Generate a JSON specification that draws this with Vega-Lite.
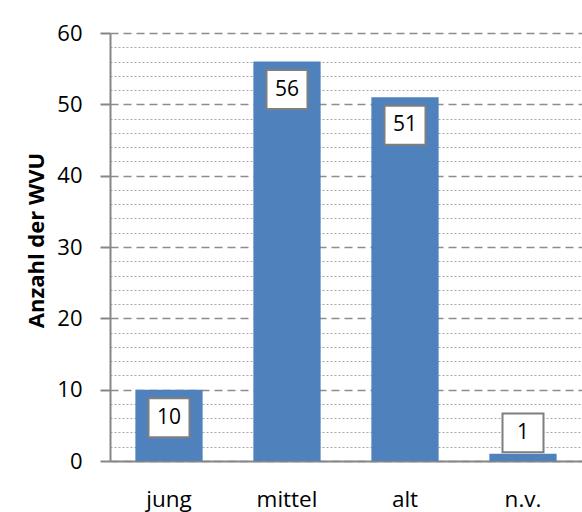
{
  "$schema": "https://vega.github.io/schema/vega-lite/v6.json",
  "width": 472,
  "height": 428,
  "autosize": {"type": "none"},
  "padding": {"left": 110, "top": 33, "right": 0, "bottom": 51},
  "background": "white",
  "config": {
    "view": {"stroke": null},
    "font": "Open Sans",
    "axis": {"labelColor": "black", "titleColor": "black"}
  },
  "data": {
    "values": [
      {"Gruppe": "jung", "Anzahl": 10},
      {"Gruppe": "mittel", "Anzahl": 56},
      {"Gruppe": "alt", "Anzahl": 51},
      {"Gruppe": "n.v.", "Anzahl": 1}
    ]
  },
  "encoding": {
    "x": {
      "field": "Gruppe",
      "type": "nominal",
      "sort": null,
      "scale": {"paddingInner": 0.43, "paddingOuter": 0.215},
      "axis": {
        "title": null,
        "labelAngle": 0,
        "labelFontSize": 22.5,
        "labelPadding": 27,
        "ticks": false,
        "domainColor": "#868686",
        "domainWidth": 2,
        "grid": false
      }
    },
    "y": {
      "field": "Anzahl",
      "type": "quantitative",
      "scale": {"domain": [0, 60], "nice": false},
      "axis": {
        "title": "Anzahl der WVU",
        "titleFontSize": 22,
        "titleFontWeight": "bold",
        "titleAngle": -90,
        "titleAlign": "center",
        "titleBaseline": "middle",
        "titleX": -74,
        "titleY": 207,
        "values": [0, 2, 4, 6, 8, 10, 12, 14, 16, 18, 20, 22, 24, 26, 28, 30, 32, 34, 36, 38, 40, 42, 44, 46, 48, 50, 52, 54, 56, 58, 60],
        "labelExpr": "datum.value % 10 === 0 ? datum.label : ''",
        "labelFontSize": 22,
        "labelPadding": 18,
        "tickSize": 10,
        "tickColor": "#868686",
        "tickWidth": 2,
        "tickOpacity": {"condition": {"test": "datum.value % 10 === 0", "value": 1}, "value": 0},
        "domainColor": "#868686",
        "domainWidth": 2,
        "grid": true,
        "gridColor": {"condition": {"test": "datum.value % 10 === 0", "value": "#8c8c8c"}, "value": "#a6a6a6"},
        "gridWidth": {"condition": {"test": "datum.value % 10 === 0", "value": 1.5}, "value": 1},
        "gridDash": {"condition": {"test": "datum.value % 10 === 0", "value": [8, 5]}, "value": [2, 2]}
      }
    }
  },
  "layer": [
    {
      "mark": {"type": "bar", "color": "#4F81BD"}
    },
    {
      "transform": [{"filter": "datum.Anzahl >= 5"}],
      "layer": [
        {
          "mark": {"type": "point", "shape": "M-1,-0.95H1V0.95H-1Z", "size": 1681, "filled": true, "fill": "white", "stroke": "#7F7F7F", "strokeWidth": 2, "opacity": 1, "yOffset": 28}
        },
        {
          "mark": {"type": "text", "fontSize": 21, "color": "black", "baseline": "middle", "yOffset": 28},
          "encoding": {"text": {"field": "Anzahl", "type": "quantitative"}}
        }
      ]
    },
    {
      "transform": [{"filter": "datum.Anzahl < 5"}],
      "layer": [
        {
          "mark": {"type": "point", "shape": "M-1,-0.95H1V0.95H-1Z", "size": 1681, "filled": true, "fill": "white", "stroke": "#7F7F7F", "strokeWidth": 2, "opacity": 1, "yOffset": -21}
        },
        {
          "mark": {"type": "text", "fontSize": 21, "color": "black", "baseline": "middle", "yOffset": -21},
          "encoding": {"text": {"field": "Anzahl", "type": "quantitative"}}
        }
      ]
    }
  ]
}
